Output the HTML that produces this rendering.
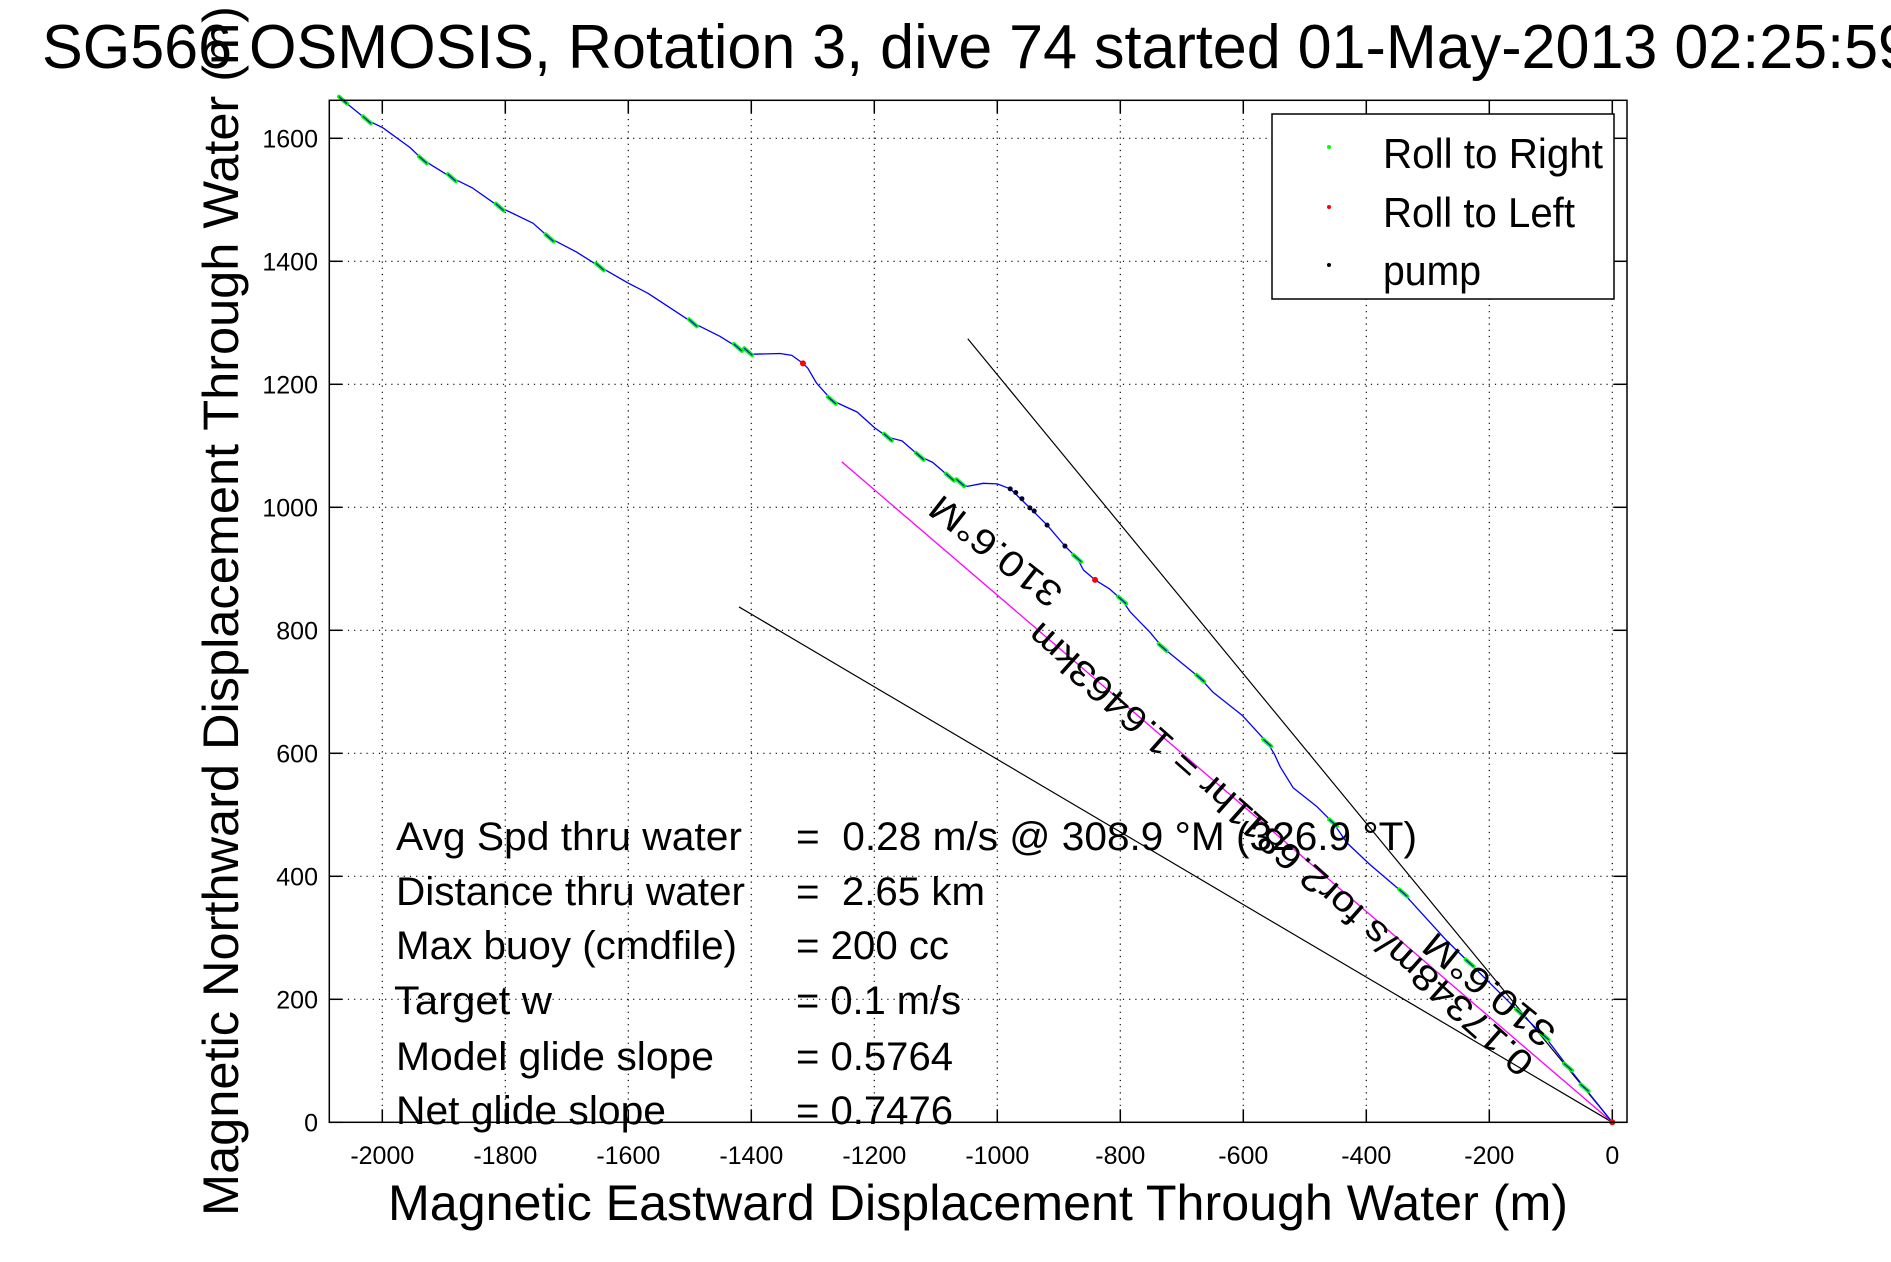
<!DOCTYPE html>
<html><head><meta charset="utf-8"><style>
html,body{margin:0;padding:0;background:#fff;}
svg{display:block;font-family:"Liberation Sans",sans-serif;}
</style></head><body>
<svg id="chart" width="1891" height="1262" viewBox="0 0 1891 1262" xmlns="http://www.w3.org/2000/svg">
<rect width="1891" height="1262" fill="#fff"/>
<text x="42" y="68" font-size="62" textLength="1870" lengthAdjust="spacingAndGlyphs">SG566 OSMOSIS, Rotation 3, dive 74 started 01-May-2013 02:25:59</text>
<g id="grid"></g>
<g id="ticks"></g>
<g id="series"></g>
<rect x="329.3" y="100.3" width="1297.7" height="1022" fill="none" stroke="#000" stroke-width="1.5"/>
<text x="388" y="1220" font-size="50" textLength="1180" lengthAdjust="spacingAndGlyphs">Magnetic Eastward Displacement Through Water (m)</text>
<text transform="translate(238,1216) rotate(-90)" x="0" y="0" font-size="50" textLength="1210" lengthAdjust="spacingAndGlyphs">Magnetic Northward Displacement Through Water (m)</text>
<g font-size="40">
<text x="396" y="850" textLength="346" lengthAdjust="spacingAndGlyphs">Avg Spd thru water</text>
<text x="396" y="905" textLength="349" lengthAdjust="spacingAndGlyphs">Distance thru water</text>
<text x="396" y="959" textLength="341" lengthAdjust="spacingAndGlyphs">Max buoy (cmdfile)</text>
<text x="394" y="1014" textLength="158" lengthAdjust="spacingAndGlyphs">Target w</text>
<text x="396" y="1070" textLength="318" lengthAdjust="spacingAndGlyphs">Model glide slope</text>
<text x="396" y="1124" textLength="270" lengthAdjust="spacingAndGlyphs">Net glide slope</text>
<text x="796" y="850" xml:space="preserve" textLength="621" lengthAdjust="spacingAndGlyphs">=  0.28 m/s @ 308.9 °M (326.9 °T)</text>
<text x="796" y="905" xml:space="preserve" textLength="189" lengthAdjust="spacingAndGlyphs">=  2.65 km</text>
<text x="796" y="959" textLength="153" lengthAdjust="spacingAndGlyphs">= 200 cc</text>
<text x="796" y="1014" textLength="165" lengthAdjust="spacingAndGlyphs">= 0.1 m/s</text>
<text x="796" y="1070" textLength="157" lengthAdjust="spacingAndGlyphs">= 0.5764</text>
<text x="796" y="1124" textLength="157" lengthAdjust="spacingAndGlyphs">= 0.7476</text>
</g>
<text transform="translate(1065,590) rotate(218)" font-size="36" textLength="157" lengthAdjust="spacingAndGlyphs">310.6°M</text>
<text transform="translate(1536,1060) rotate(221.6)" font-size="36" textLength="662" lengthAdjust="spacingAndGlyphs">0.17348m/s for2.6811hr = 1.6463km</text>
<text transform="translate(1558,1030) rotate(219)" font-size="36" textLength="158" lengthAdjust="spacingAndGlyphs">310.6°M</text>
<g>
<rect x="1272" y="114" width="342" height="185" fill="#fff" stroke="#000" stroke-width="1.5"/>
<circle cx="1329" cy="147" r="2" fill="#00ff00"/>
<circle cx="1329" cy="207" r="2" fill="#ff0000"/>
<circle cx="1329" cy="265" r="2" fill="#000"/>
<text x="1383" y="168" font-size="42" textLength="220" lengthAdjust="spacingAndGlyphs">Roll to Right</text>
<text x="1383" y="227" font-size="42" textLength="192" lengthAdjust="spacingAndGlyphs">Roll to Left</text>
<text x="1383" y="285" font-size="42" textLength="98" lengthAdjust="spacingAndGlyphs">pump</text>
</g>
</svg>
<script>
const xTicks=[-2000,-1800,-1600,-1400,-1200,-1000,-800,-600,-400,-200,0];
const yTicks=[0,200,400,600,800,1000,1200,1400,1600];
const trackX=[-2064,-2025,-1999,-1955,-1934,-1887,-1853,-1809,-1755,-1728,-1684,-1646,-1601,-1568,-1495,-1451,-1422,-1397,-1353,-1334,-1316,-1308,-1294,-1269,-1248,-1228,-1199,-1178,-1155,-1126,-1105,-1077,-1049,-1023,-1000,-979,-947,-919,-890,-870,-860,-841,-817,-797,-784,-752,-731,-670,-649,-602,-561,-550,-540,-519,-480,-454,-431,-394,-340,-269,-232,-150,-110,-72,0];
const trackY=[1662,1630,1617,1585,1565,1536,1519,1488,1462,1438,1415,1391,1365,1348,1300,1278,1260,1249,1250,1247,1234,1226,1202,1174,1164,1155,1129,1114,1108,1083,1073,1049,1034,1039,1038,1030,999,971,937,917,898,882,867,849,830,797,772,722,699,662,617,600,578,544,513,487,454,419,373,295,259,178,140,90,0];
const greenX=[-2064,-2025,-1934,-1887,-1809,-1728,-1646,-1495,-1422,-1405,-1269,-1178,-1126,-1077,-1060,-870,-797,-731,-670,-561,-454,-340,-232,-150,-110,-72,-45];
const greenY=[1662,1630,1565,1536,1488,1438,1391,1300,1260,1253,1174,1114,1083,1049,1040,917,849,772,722,617,487,373,259,178,140,90,56];
const redX=[-1316,-841,0];
const redY=[1234,882,0];
const pumpX=[-979,-970,-960,-947,-940,-919,-890];
const pumpY=[1030,1024,1014,999,994,971,937];
const refLineX=[-1048,-1420];
const refLineY=[1274,838];
const currentX=[-1253];
const currentY=[1074];

const X0=1612.3,Y0=1122.3,S=0.615;
const L=329.3,R=1627,T=100.3,B=1122.3;
function sx(v){return X0+v*S;}
function sy(v){return Y0-v*S;}
const NS='http://www.w3.org/2000/svg';
function mk(parent,tag,attrs){const e=document.createElementNS(NS,tag);for(const k in attrs)e.setAttribute(k,attrs[k]);parent.appendChild(e);return e;}
const grid=document.getElementById('grid'),ticks=document.getElementById('ticks'),series=document.getElementById('series');
xTicks.forEach(v=>{
  const x=sx(v);
  const g=mk(grid,'line',{x1:x,y1:T,x2:x,y2:B,stroke:'#000','stroke-width':1.2,'stroke-dasharray':'1.2,5'});
  
  
  const t1=mk(ticks,'line',{x1:x,y1:B,x2:x,y2:B-13,stroke:'#000','stroke-width':1.5});
  
  
  const t2=mk(ticks,'line',{x1:x,y1:T,x2:x,y2:T+13,stroke:'#000','stroke-width':1.5});
  
  
  const lb=mk(ticks,'text',{x:x,y:1164,'font-size':25,'text-anchor':'middle'});
  lb.textContent=String(v);
  
  
});
yTicks.forEach(v=>{
  const y=sy(v);
  const g=mk(grid,'line',{x1:L,y1:y,x2:R,y2:y,stroke:'#000','stroke-width':1.2,'stroke-dasharray':'1.2,5'});
  
  
  const t1=mk(ticks,'line',{x1:L,y1:y,x2:L+13,y2:y,stroke:'#000','stroke-width':1.5});
  
  
  const t2=mk(ticks,'line',{x1:R,y1:y,x2:R-13,y2:y,stroke:'#000','stroke-width':1.5});
  
  
  const lb=mk(ticks,'text',{x:318,y:y+9,'font-size':25,'text-anchor':'end'});
  lb.textContent=String(v);
  
  
});
refLineX.forEach((v,i)=>{
  const l=mk(series,'line',{x1:sx(0),y1:sy(0),x2:sx(v),y2:sy(refLineY[i]),stroke:'#000','stroke-width':1.2});
  
  
});
currentX.forEach((v,i)=>{
  const l=mk(series,'line',{x1:sx(0),y1:sy(0),x2:sx(v),y2:sy(currentY[i]),stroke:'#ff00ff','stroke-width':1.3});
  
  
});
const pts=trackX.map((v,i)=>sx(v).toFixed(1)+','+sy(trackY[i]).toFixed(1)).join(' ');
const tr=mk(series,'polyline',{points:pts,fill:'none',stroke:'#0000ff','stroke-width':1.3,'stroke-linejoin':'round'});


greenX.forEach((v,i)=>{
  const c=mk(series,'line',{x1:sx(v)-4,y1:sy(greenY[i])-3.5,x2:sx(v)+4,y2:sy(greenY[i])+3.5,stroke:'#00ff00','stroke-width':4,'stroke-linecap':'round'});
  
  
  const c2=mk(series,'line',{x1:sx(v)-4,y1:sy(greenY[i])-3.5,x2:sx(v)+4,y2:sy(greenY[i])+3.5,stroke:'#0000ff','stroke-width':1.2});
  
  
});
pumpX.forEach((v,i)=>{
  const c=mk(series,'circle',{cx:sx(v),cy:sy(pumpY[i]),r:2.5,fill:'#000033'});
  
  
});
redX.forEach((v,i)=>{
  const c=mk(series,'circle',{cx:sx(v),cy:sy(redY[i]),r:3,fill:'#ff0000'});
  
  
});
</script>
</body></html>
